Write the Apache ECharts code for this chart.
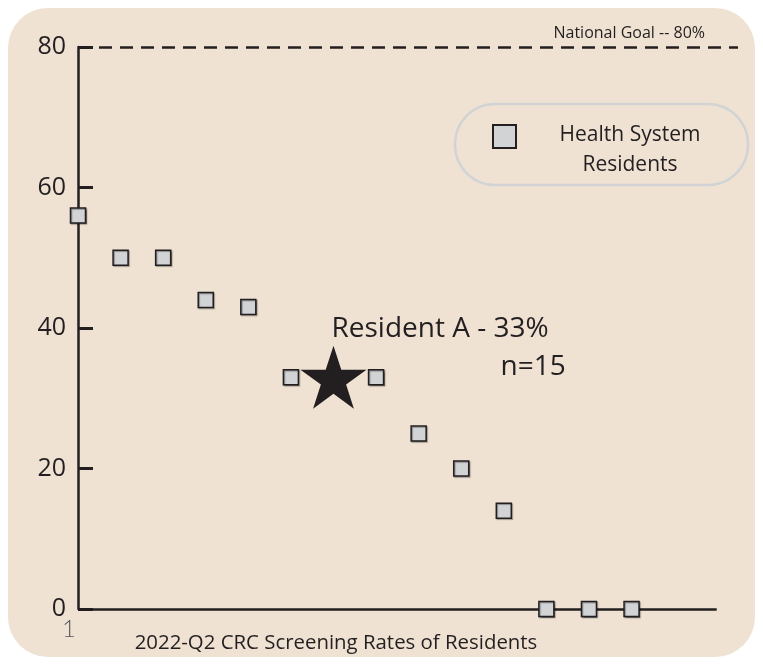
<!DOCTYPE html>
<html>
<head>
<meta charset="utf-8">
<script src="https://cdn.jsdelivr.net/npm/echarts@6/dist/echarts.min.js"></script>
<style>
  html, body { margin: 0; padding: 0; background: #fff; }
  #chart { width: 763px; height: 665px; }
</style>
</head>
<body>
<div id="chart"></div>
<script>
// 住院医师筛查率（各点）
const residentX = [1, 2, 3, 4, 5, 6, 8, 9, 10, 11, 12, 13, 14];
const residentRates = [56, 50, 50, 44, 43, 33, 33, 25, 20, 14, 0, 0, 0];
// Resident A (star)
const residentAX = 7;
const residentARate = 33;
const residentAN = 15;
// axes
const yTickStep = 20;
const yMax = 80;
const goalRate = 80;
const xStart = 1;
const xAxisEnd = 16;
const legendLines = ['Health System', 'Residents'];
const xTitle = '2022-Q2 CRC Screening Rates of Residents';

const ink = '#231f20';
const font = 'Open Sans';
const starPath = 'path://M50,0L61.23,34.55L97.55,34.55L68.17,55.9L79.39,90.45L50,69.1L20.61,90.45L31.83,55.9L2.45,34.55L38.77,34.55Z';

let myEcharts = echarts.init(document.getElementById('chart'))
let option = {
  animation: false,
  backgroundColor: '#fff',
  grid: { left: 78, right: 25, top: 47, bottom: 56 },
  graphic: [
    {
      type: 'rect', z: -100, silent: true,
      shape: { x: 8, y: 8, width: 747, height: 649, r: 40 },
      style: { fill: '#efe2d3' }
    },
    {
      type: 'rect', z: 1, silent: true,
      shape: { x: 455, y: 104, width: 293, height: 81, r: 40 },
      style: { fill: 'transparent', stroke: '#d1d3d4', lineWidth: 2.5 }
    },
    {
      type: 'text', z: 5, silent: true,
      x: 336, y: 643,
      style: {
        text: xTitle, fill: ink, font: '20.4px "Open Sans"',
        textAlign: 'center', textVerticalAlign: 'middle',
        align: 'center', verticalAlign: 'middle'
      }
    }
  ],
  legend: {
    data: [legendLines.join(' ')],
    left: 492,
    top: 124,
    padding: 0,
    itemWidth: 23,
    itemHeight: 23,
    selectedMode: false,
    formatter() {
      return legendLines.map(l => '{a|' + l + '}').join('\n')
    },
    textStyle: {
      padding: [28, 0, 0, 38],
      rich: {
        a: { width: 142, align: 'center', fontSize: 21, lineHeight: 30, fontFamily: font, color: ink }
      }
    }
  },
  xAxis: {
    type: 'value',
    min: xStart,
    max: xAxisEnd + 0.5,
    interval: 1,
    axisLine: { show: false },
    axisTick: { show: false },
    splitLine: { show: false },
    axisLabel: {
      showMaxLabel: false,
      margin: 8,
      align: 'center',
      padding: [0, 18, 0, 0],
      fontSize: 24,
      fontFamily: 'Lato',
      fontWeight: 300,
      color: '#58595b',
      formatter(v) { return v === xStart ? String(v) : '' }
    }
  },
  yAxis: {
    type: 'value',
    min: 0,
    max: yMax,
    interval: yTickStep,
    axisLine: { show: true, lineStyle: { color: ink, width: 2.5 } },
    axisTick: { show: true, inside: true, length: 15, lineStyle: { color: ink, width: 3 } },
    splitLine: { show: false },
    axisLabel: { fontSize: 25, fontFamily: font, color: ink, margin: 12 }
  },
  series: [
    {
      name: legendLines.join(' '),
      type: 'scatter',
      z: 10,
      symbol: 'rect',
      symbolSize: 15,
      itemStyle: {
        opacity: 1,
        color: '#d1d3d4',
        borderColor: ink,
        borderWidth: 1.5,
        shadowColor: 'rgba(0,0,0,0.35)',
        shadowBlur: 1,
        shadowOffsetX: 1,
        shadowOffsetY: 1
      },
      data: residentX.map((x, i) => [x, residentRates[i]]),
      markLine: {
        silent: true,
        symbol: ['none', 'none'],
        data: [
          {
            yAxis: goalRate,
            lineStyle: { color: ink, width: 2.5, type: [13, 8] },
            label: {
              show: true,
              position: 'insideEndTop',
              distance: [33, 6],
              formatter: 'National Goal -- ' + goalRate + '%',
              fontSize: 16,
              fontFamily: font,
              color: ink
            }
          },
          [
            { coord: [xStart, 0], lineStyle: { color: ink, width: 2.5, type: 'solid' }, label: { show: false } },
            { coord: [xAxisEnd, 0] }
          ]
        ]
      }
    },
    {
      name: 'Resident A',
      type: 'scatter',
      z: 10,
      symbol: starPath,
      symbolSize: [66, 63],
      itemStyle: { color: ink, opacity: 1 },
      label: {
        show: true,
        position: [31, -36],
        align: 'left',
        verticalAlign: 'top',
        formatter() {
          return '{a|Resident A - ' + residentARate + '%}\n{b|n=' + residentAN + '}'
        },
        rich: {
          a: { fontSize: 28, lineHeight: 38, fontFamily: font, color: ink },
          b: { fontSize: 28, lineHeight: 38, fontFamily: font, color: ink, padding: [0, 0, 0, 169] }
        }
      },
      data: [[residentAX, residentARate]]
    }
  ]
}
myEcharts.setOption(option)
</script>
</body>
</html>
